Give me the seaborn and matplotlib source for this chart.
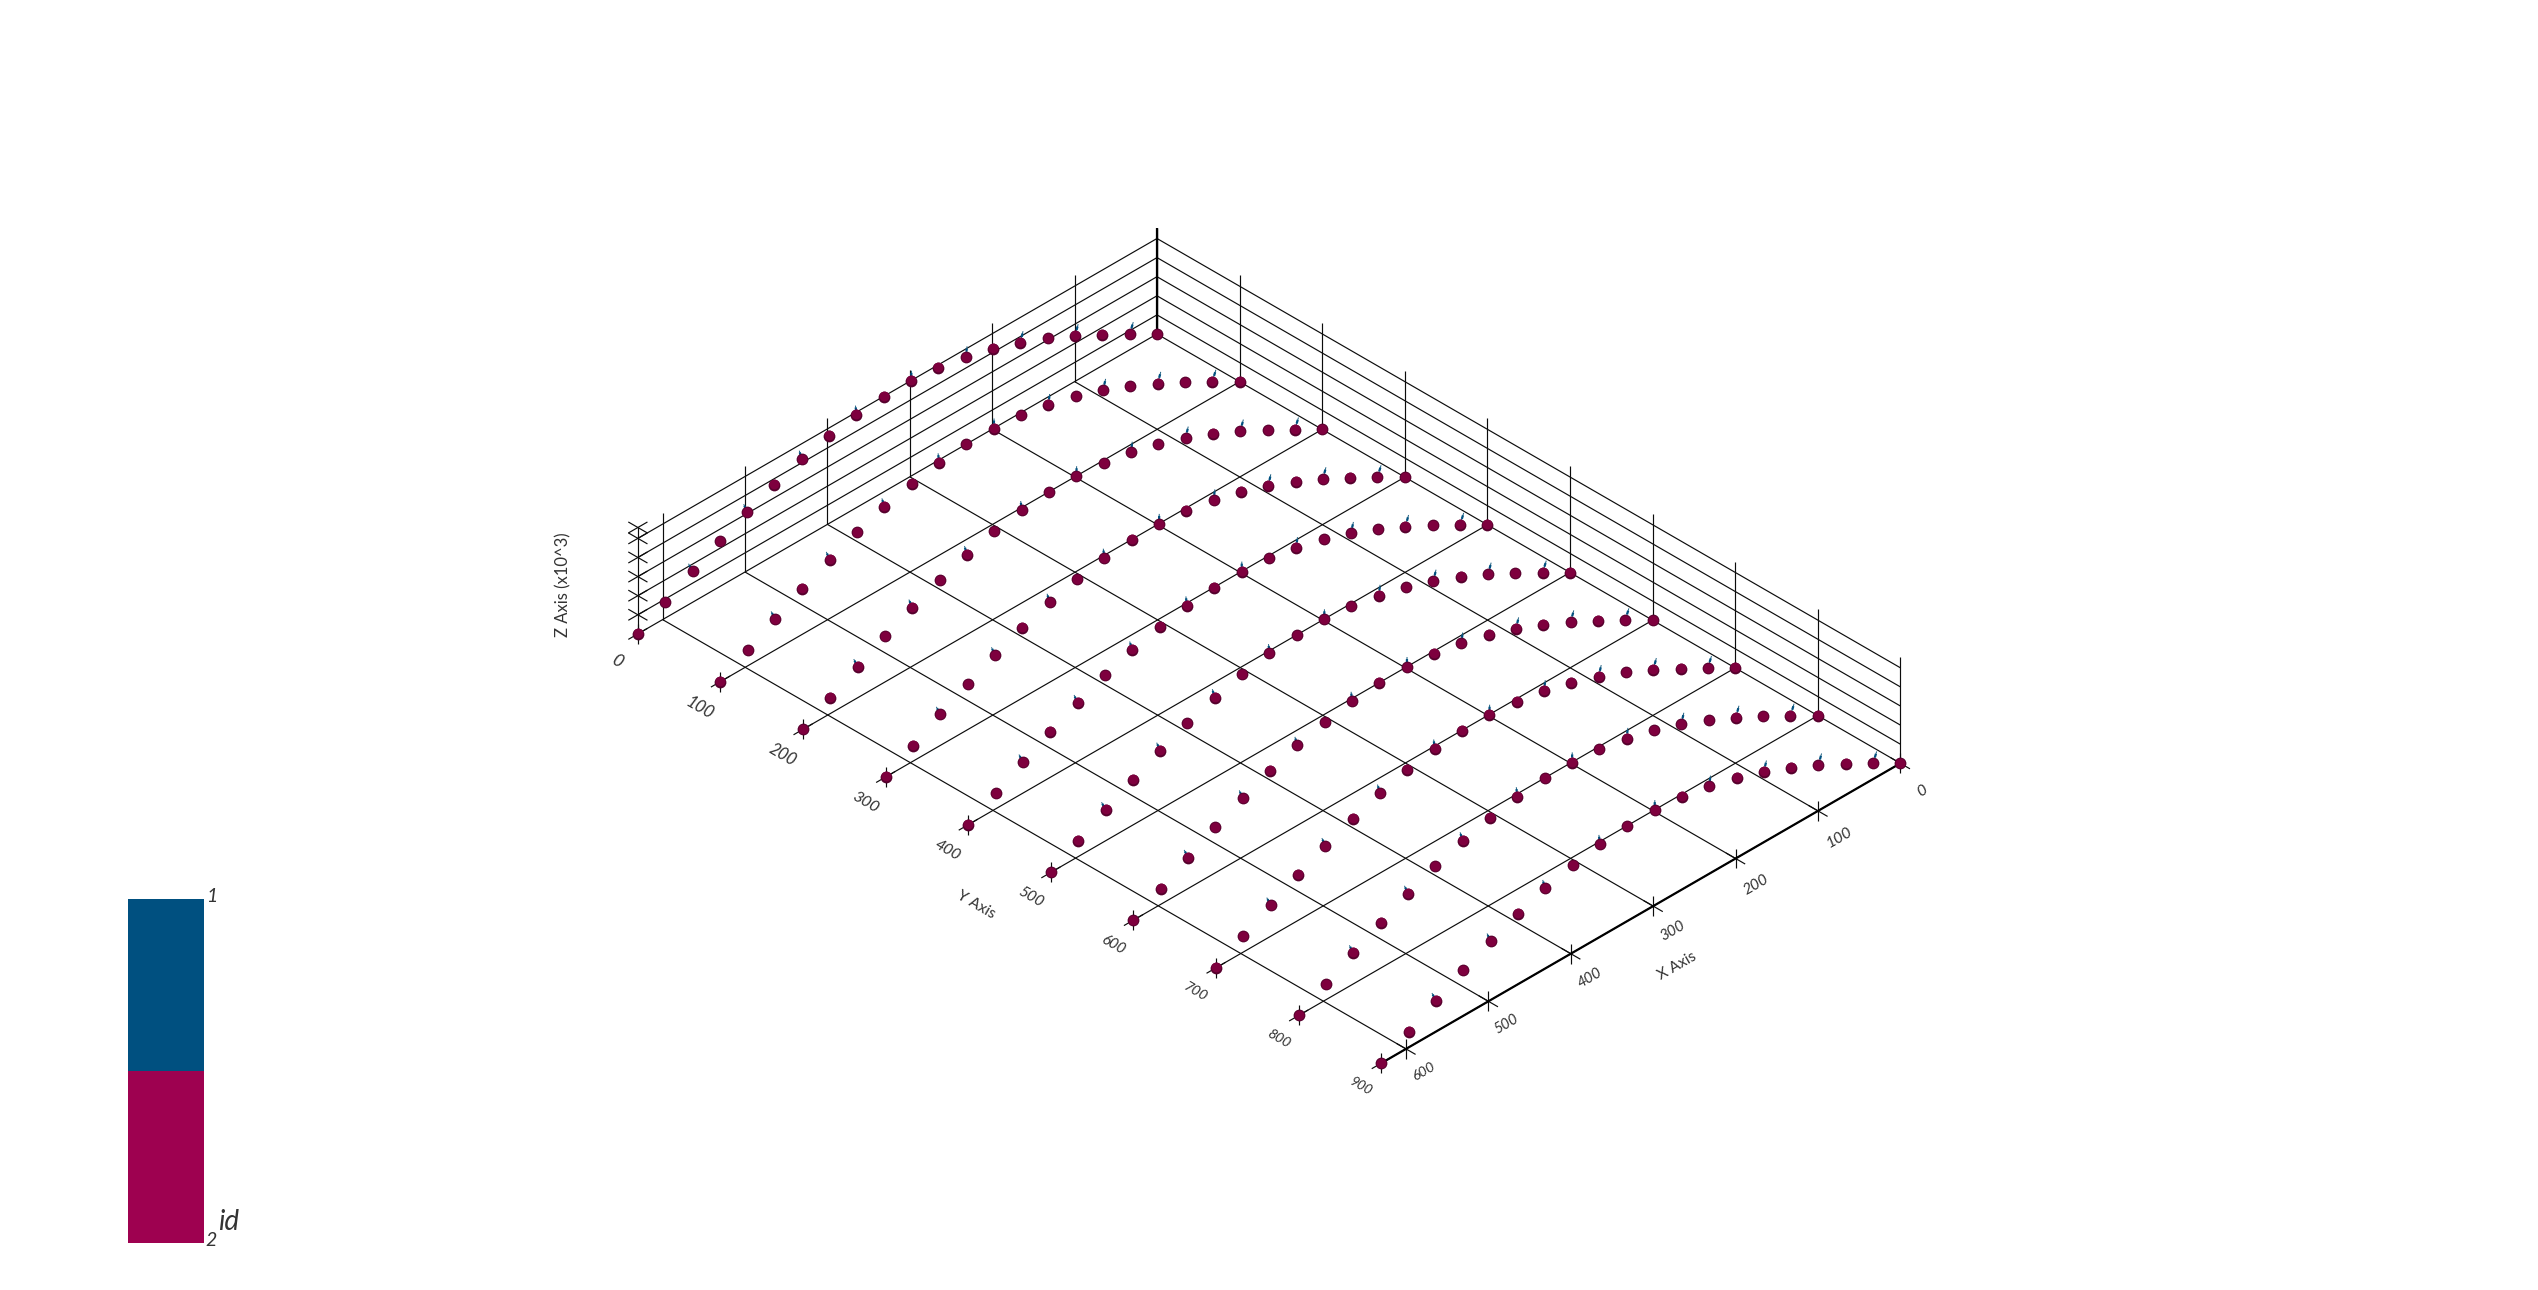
import numpy as np
import pandas as pd
import matplotlib
matplotlib.use("Agg")
import matplotlib.pyplot as plt
from matplotlib.collections import LineCollection
from matplotlib.colors import ListedColormap
import seaborn as sns

# ---- data ----
x_ticks = [0, 100, 200, 300, 400, 500, 600]
y_ticks = [0, 100, 200, 300, 400, 500, 600, 700, 800, 900]
z_ticks = [1000, 2000, 3000, 4000, 5000]
x_max = 630
z_max = 5570
row_y = [0, 100, 200, 300, 400, 500, 600, 700, 800, 900]
point_x = [0, 33.2, 66.3, 99.5, 132.6, 165.8, 198.9, 232.1, 265.3, 298.4,
           331.6, 364.7, 397.9, 431.1, 464.2, 497.4, 530.5, 563.7, 596.8, 630]
point_z = [0, 820, 1620, 2380, 3070, 3680, 4190, 4580, 4850, 4980,
           4980, 4850, 4580, 4190, 3680, 3070, 2380, 1620, 820, 0]
arrow_index = [1, 3, 5, 7, 9, 11, 13, 15, 17]
arrow_u = [-4.4, -3.8, -3.2, -1.6, -0.4, 1.2, 3.0, 4.2, 4.8]
arrow_w = 520
bar_values = [[1], [2]]
bar_colors = ["#005080", "#9e0150"]

BLUE = "#005080"
INK = "#0c0c0c"


def project(x, y, z=0):
    x, y, z = np.asarray(x, float), np.asarray(y, float), np.asarray(z, float)
    return 1157 - 0.824 * x + 0.826 * y, 334 + 0.476 * x + 0.477 * y - 0.0191 * z


def line(p, q):
    sx, sy = project([p[0], q[0]], [p[1], q[1]], [p[2], q[2]])
    return [(sx[0], sy[0]), (sx[1], sy[1])]


sns.set_theme(style="white")
plt.rcParams["font.family"] = ["Lato", "DejaVu Sans"]

fig = plt.figure(figsize=(25.38, 12.9), dpi=100, facecolor="white")
ax = fig.add_axes([0, 0, 1, 1])

# ---- grid ----
grid = []
for xv in x_ticks:
    grid.append(line((xv, 0, 0), (xv, 900, 0)))
    grid.append(line((xv, 0, 0), (xv, 0, z_max)))
for yv in y_ticks:
    grid.append(line((0, yv, 0), (x_max, yv, 0)))
    grid.append(line((0, yv, 0), (0, yv, z_max)))
for zv in z_ticks:
    grid.append(line((0, 0, zv), (x_max, 0, zv)))
    grid.append(line((0, 0, zv), (0, 900, zv)))
grid.append(line((x_max, 0, 0), (x_max, 0, z_max)))
ax.add_collection(LineCollection(grid, colors=INK, linewidths=0.85, zorder=1))

# ---- ticks ----
ticks = []
th, tz = 11.6, 523
for xv in x_ticks:
    ticks.append(line((xv, 900 - th, 0), (xv, 900 + th, 0)))
    ticks.append(line((xv, 900, -tz), (xv, 900, tz)))
for yv in y_ticks:
    ticks.append(line((x_max - th, yv, 0), (x_max + th, yv, 0)))
    ticks.append(line((x_max, yv, -tz), (x_max, yv, tz)))
for zv in z_ticks + [z_max]:
    ticks.append(line((x_max - th, 0, zv), (x_max + th, 0, zv)))
    ticks.append(line((x_max, -th, zv), (x_max, th, zv)))
ax.add_collection(LineCollection(ticks, colors=INK, linewidths=0.85, zorder=1))

# thick edges
thick = [line((0, 900, 0), (x_max, 900, 0)), line((0, 0, 0), (0, 0, z_max))]
ax.add_collection(LineCollection(thick, colors="black", linewidths=1.6, zorder=1.5))

# ---- arrows ----
shaft, head = [], []
for yv in row_y:
    for i, u in zip(arrow_index, arrow_u):
        xv, zv = point_x[i], point_z[i]
        shaft.append(line((xv, yv, zv), (xv + u, yv, zv + arrow_w)))
        head.append(line((xv + 0.5 * u, yv, zv + 0.5 * arrow_w),
                         (xv + 0.8 * u, yv, zv + 0.8 * arrow_w)))
ax.add_collection(LineCollection(shaft, colors="#1d5f80", linewidths=0.7, zorder=2))
ax.add_collection(LineCollection(head, colors=BLUE, linewidths=1.6, zorder=2))

# ---- points ----
df = pd.DataFrame(
    [(xv, yv, zv) for yv in row_y for xv, zv in zip(point_x, point_z)],
    columns=["x", "y", "z"],
)
df["sx"], df["sy"] = project(df["x"], df["y"], df["z"])
sns.scatterplot(data=df, x="sx", y="sy", s=72, color="#56002d", linewidth=0,
                ax=ax, zorder=3, legend=False)
sns.scatterplot(data=df.assign(sy=df["sy"] - 0.5), x="sx", y="sy", s=50,
                color="#7e003e", linewidth=0, ax=ax, zorder=4, legend=False)

ax.set_xlim(0, 2538)
ax.set_ylim(1290, 0)
ax.set_axis_off()

# ---- tick labels ----
label_kw = dict(ha="center", va="center", style="italic", color="#333333",
                textcoords="offset pixels", annotation_clip=False)
for xv in x_ticks:
    sx, sy = project(xv, 900, 0)
    ax.annotate(str(xv), (float(sx), float(sy)),
                xytext=(21.7 - 0.0066 * xv, -(28 - 0.0093 * xv)),
                rotation=30, fontsize=11.5 - 0.002 * xv, **label_kw)
for yv in y_ticks:
    sx, sy = project(x_max, yv, 0)
    ax.annotate(str(yv), (float(sx), float(sy)),
                xytext=(-21 + 0.001 * yv, -(27 - 0.0045 * yv)),
                rotation=-30, fontsize=12.5 - 0.003 * yv, **label_kw)

text_kw = dict(ha="center", va="center", color="#333333")
ax.text(1677, 966, "X Axis", rotation=30, fontsize=11, **text_kw)
ax.text(976, 905, "Y Axis", rotation=-30, fontsize=11, **text_kw)
ax.text(563, 585, "Z Axis (x10^3)", rotation=90, fontsize=12, **text_kw)

# ---- colour bar ----
cax = fig.add_axes([128 / 2538, 1 - 1242.7 / 1290, 76 / 2538, 343.7 / 1290])
sns.heatmap(np.array(bar_values), cmap=ListedColormap(bar_colors), cbar=False,
            xticklabels=False, yticklabels=False, ax=cax)
ax.text(211.7, 897, "1", style="italic", fontsize=14, **text_kw)
ax.text(210.7, 1240, "2", style="italic", fontsize=14, **text_kw)
ax.text(229, 1222, "id", style="italic", fontsize=20, **text_kw)

fig.savefig("out.png", dpi=100, facecolor="white")
